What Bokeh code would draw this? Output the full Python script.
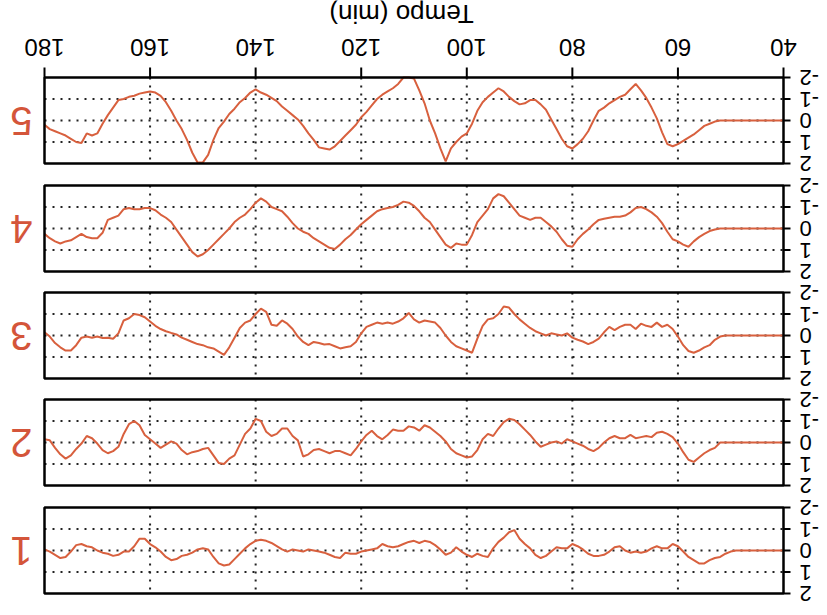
import math
from bokeh.plotting import figure
from bokeh.models import Range1d, ColumnDataSource
from bokeh.core.properties import value
from bokeh.embed import file_html
from bokeh.resources import INLINE

# ---------------- data ----------------
minutes = list(range(40, 181))

series_5 = [
    0, 0, 0, 0, 0, 0, 0, 0, 0, 0,
    0, 0, 0, 0.05, 0.15, 0.25, 0.45, 0.65, 0.8, 0.95,
    1.1, 1.2, 1.1, 0.55, -0.1, -0.6, -1.05, -1.4, -1.7, -1.45,
    -1.2, -1.1, -0.95, -0.8, -0.6, -0.45, 0, 0.5, 0.85, 1.1,
    1.3, 1.2, 0.85, 0.4, -0.05, -0.5, -0.75, -0.95, -0.95, -0.8,
    -0.75, -0.9, -1.1, -1.35, -1.5, -1.3, -1.1, -0.85, -0.45, 0.15,
    0.6, 0.75, 1.0, 1.3, 1.9, 1.3, 0.6, 0.0, -0.8, -1.4,
    -1.95, -2.0, -2.0, -1.7, -1.5, -1.35, -1.2, -1.0, -0.7, -0.4,
    -0.15, 0.2, 0.45, 0.7, 0.95, 1.2, 1.35, 1.3, 1.25, 0.9,
    0.6, 0.25, -0.05, -0.25, -0.45, -0.65, -0.9, -1.05, -1.2, -1.3,
    -1.45, -1.3, -1.05, -0.85, -0.55, -0.3, 0.05, 0.35, 0.9, 1.6,
    1.95, 1.95, 1.5, 0.9, 0.4, 0.0, -0.45, -0.85, -1.15, -1.3,
    -1.35, -1.3, -1.25, -1.15, -1.1, -1.0, -0.95, -0.6, -0.25, 0.15,
    0.6, 0.7, 0.6, 1.05, 1.0, 0.85, 0.7, 0.6, 0.5, 0.4,
    0.2,
]

series_4 = [
    0, 0, 0, 0, 0, 0, 0, 0, 0, 0,
    0, 0, 0, 0.05, 0.12, 0.25, 0.4, 0.6, 0.85, 0.75,
    0.6, 0.5, 0.15, -0.25, -0.55, -0.75, -0.9, -1.0, -0.95, -0.75,
    -0.6, -0.55, -0.55, -0.5, -0.45, -0.4, -0.2, 0.05, 0.25, 0.5,
    0.85, 0.8, 0.5, 0.15, -0.1, -0.3, -0.5, -0.5, -0.4, -0.5,
    -0.6, -0.9, -1.2, -1.5, -1.6, -1.4, -0.9, -0.6, -0.3, 0.3,
    0.75, 0.75, 0.7, 0.9, 0.75, 0.4, 0.05, -0.3, -0.5, -0.8,
    -1.05, -1.2, -1.25, -1.1, -1.0, -0.95, -0.9, -0.8, -0.6, -0.4,
    -0.2, 0.05, 0.3, 0.5, 0.75, 0.95, 0.9, 0.75, 0.6, 0.45,
    0.25, 0.15, 0.0, -0.25, -0.55, -0.8, -0.9, -1.0, -1.25, -1.4,
    -1.2, -0.9, -0.65, -0.5, -0.3, 0.0, 0.25, 0.5, 0.75, 1.0,
    1.2, 1.3, 1.1, 0.75, 0.4, 0.05, -0.3, -0.5, -0.65, -0.85,
    -0.95, -0.95, -0.9, -0.9, -0.95, -0.9, -0.6, -0.5, -0.4, 0.2,
    0.45, 0.45, 0.4, 0.25, 0.4, 0.55, 0.6, 0.7, 0.6, 0.45,
    0.25,
]

series_3 = [
    0, 0, 0, 0, 0, 0, 0, 0, 0, 0,
    0, 0, 0.05, 0.2, 0.45, 0.55, 0.7, 0.8, 0.72, 0.45,
    0.05, -0.3, -0.5, -0.4, -0.6, -0.4, -0.45, -0.55, -0.3, -0.5,
    -0.5, -0.4, -0.25, -0.4, -0.15, 0.15, 0.3, 0.4, 0.28, 0.2,
    0.1, -0.1, 0.0, -0.05, -0.1, 0.0, -0.1, -0.2, -0.35, -0.55,
    -0.75, -1.0, -1.3, -1.35, -1.0, -0.8, -0.75, -0.45, 0.15, 0.8,
    0.7, 0.6, 0.5, 0.3, 0.0, -0.35, -0.6, -0.65, -0.7, -0.6,
    -0.75, -1.05, -0.8, -0.65, -0.55, -0.6, -0.55, -0.6, -0.5, -0.4,
    -0.1, 0.3, 0.5, 0.55, 0.6, 0.5, 0.4, 0.42, 0.35, 0.3,
    0.45, 0.3, 0.05, -0.3, -0.55, -0.7, -0.45, -0.5, -1.1, -1.25,
    -1.0, -0.7, -0.6, -0.35, 0.1, 0.55, 0.9, 0.75, 0.6, 0.55,
    0.45, 0.4, 0.3, 0.2, 0.1, -0.05, -0.12, -0.2, -0.3, -0.45,
    -0.65, -0.85, -0.95, -1.0, -0.8, -0.7, -0.1, 0.15, 0.1, 0.12,
    0.05, 0.1, 0.05, 0.1, 0.45, 0.7, 0.7, 0.55, 0.35, 0.05,
    -0.15,
]

series_2 = [
    0, 0, 0, 0, 0, 0, 0, 0, 0, 0,
    0, 0, 0, 0.25, 0.35, 0.5, 0.7, 0.9, 0.8, 0.45,
    0.05, -0.25, -0.4, -0.5, -0.45, -0.25, -0.3, -0.25, -0.2, -0.35,
    -0.2, -0.2, -0.3, -0.2, 0.0, 0.25, 0.4, 0.3, 0.15, 0.05,
    -0.05, -0.15, 0.05, -0.05, 0.0, 0.1, 0.2, -0.05, -0.35, -0.6,
    -0.85, -1.05, -1.1, -0.95, -0.65, -0.3, -0.4, -0.15, 0.35, 0.65,
    0.7, 0.6, 0.5, 0.3, -0.05, -0.3, -0.5, -0.7, -0.8, -0.55,
    -0.7, -0.75, -0.55, -0.55, -0.6, -0.35, -0.15, -0.3, -0.55, -0.35,
    -0.05, 0.3, 0.6, 0.5, 0.4, 0.4, 0.5, 0.4, 0.3, 0.35,
    0.55, 0.65, -0.1, -0.3, -0.65, -0.65, -0.4, -0.3, -0.5, -1.0,
    -1.1, -0.65, -0.4, 0.1, 0.6, 0.75, 1.0, 0.95, 0.6, 0.25,
    0.3, 0.4, 0.45, 0.55, 0.35, 0.05, -0.05, 0.1, 0.25, 0.05,
    -0.15, -0.35, -0.8, -1.0, -0.85, -0.4, 0.2, 0.4, 0.5, 0.35,
    0.05, -0.2, -0.3, 0.05, 0.3, 0.6, 0.75, 0.55, 0.25, -0.1,
    -0.15,
]

series_1 = [
    0, 0, 0, 0, 0, 0, 0, 0, 0, 0,
    0.05, 0.15, 0.3, 0.35, 0.45, 0.6, 0.6, 0.45, 0.3, 0.05,
    -0.2, -0.3, -0.1, -0.1, -0.2, -0.1, 0.05, 0.1, 0.05, 0.1,
    0.0, -0.2, -0.15, 0.05, 0.2, 0.25, 0.25, 0.15, -0.05, -0.2,
    -0.3, -0.1, -0.1, -0.15, 0.05, 0.25, 0.35, 0.2, -0.1, -0.3,
    -0.55, -0.95, -0.85, -0.6, -0.4, -0.1, 0.3, 0.25, 0.15, 0.3,
    0.2, 0.05, -0.15, 0.1, 0.2, -0.05, -0.25, -0.4, -0.45, -0.35,
    -0.45, -0.4, -0.3, -0.2, -0.15, -0.2, -0.3, -0.1, -0.05, 0.0,
    0.05, 0.15, 0.15, 0.1, 0.35, 0.3, 0.2, 0.1, 0.05, 0.0,
    -0.05, 0.05, 0.0, -0.05, 0.05, -0.05, -0.2, -0.35, -0.45, -0.5,
    -0.45, -0.3, -0.1, 0.15, 0.4, 0.65, 0.7, 0.6, 0.3, -0.05,
    -0.1, -0.05, 0.1, 0.2, 0.25, 0.4, 0.45, 0.3, 0.05, -0.15,
    -0.3, -0.55, -0.55, -0.2, 0.05, 0.05, 0.2, 0.25, 0.15, 0.1,
    0.0, -0.15, -0.2, -0.3, -0.25, 0.05, 0.3, 0.35, 0.2, 0.05,
    -0.05,
]

panel_names = ["5", "4", "3", "2", "1"]
panel_series = [series_5, series_4, series_3, series_2, series_1]
x_ticks = [40, 60, 80, 100, 120, 140, 160, 180]
y_ticks = [-2, -1, 0, 1, 2]
y_grid = [-1, 0, 1]
x_title = "Tempo (min)"

# ---------------- layout (pixels; the picture is shown rotated 180 degrees) ----------------
W, H = 827, 614
FRAME_L, FRAME_R = 44, 783
PANEL_TOPS = [77, 185, 292, 399, 507]
PANEL_H = 86
X_MIN, X_MAX = min(x_ticks), max(x_ticks)
Y_MIN, Y_MAX = min(y_ticks), max(y_ticks)
pxm = (FRAME_R - FRAME_L) / (X_MAX - X_MIN)     # px per minute
u = PANEL_H / (Y_MAX - Y_MIN)                    # px per unit

LINE = "#d8603e"
NUM = "#d4553a"
FONT = value("Liberation Sans")
DOT = "2 6"

p = figure(
    width=W, height=H,
    x_range=Range1d(X_MAX + FRAME_L / pxm, X_MIN - (W - FRAME_R) / pxm),
    y_range=Range1d(H, 0),
    x_axis_location=None, y_axis_location=None,
    output_backend="svg", toolbar_location=None,
    min_border=0, outline_line_color=None,
    background_fill_color="white", border_fill_color="white",
)
p.xgrid.visible = False
p.ygrid.visible = False

inner_x = [t for t in x_ticks if X_MIN < t < X_MAX]

for k, (name, vals) in enumerate(zip(panel_names, panel_series)):
    T = PANEL_TOPS[k]
    B = T + PANEL_H
    rn = f"panel{name}"
    # range such that Y_MAX sits at the panel's bottom edge, Y_MIN at its top edge
    p.extra_y_ranges[rn] = Range1d(Y_MAX + (H - B) / u, Y_MIN - T / u)

    # dotted grid
    p.segment(x0=inner_x, y0=[Y_MIN] * len(inner_x), x1=inner_x, y1=[Y_MAX] * len(inner_x),
              y_range_name=rn, line_color="#222222", line_width=2, line_dash=DOT)
    p.segment(x0=[X_MAX] * len(y_grid), y0=y_grid, x1=[X_MIN] * len(y_grid), y1=y_grid,
              y_range_name=rn, line_color="#222222", line_width=2, line_dash=DOT)

    # data
    src = ColumnDataSource(dict(t=minutes, v=vals))
    p.line("t", "v", source=src, y_range_name=rn, line_color=LINE, line_width=2)

    # frame
    p.quad(left=[X_MAX], right=[X_MIN], top=[Y_MIN], bottom=[Y_MAX], y_range_name=rn,
           fill_color=None, line_color="black", line_width=2.5)

    # right axis: ticks and labels
    p.segment(x0=[X_MIN] * len(y_ticks), y0=y_ticks, x1=[X_MIN - 7 / pxm] * len(y_ticks), y1=y_ticks,
              y_range_name=rn, line_color="black", line_width=2)
    p.text(x=[X_MIN - 16 / pxm] * len(y_ticks), y=y_ticks, text=[str(t) for t in y_ticks],
           y_range_name=rn, angle=math.pi, text_align="right", text_baseline="middle",
           text_font=FONT, text_font_size="22px", text_color="black")

    # panel number
    p.text(x=[X_MAX + (FRAME_L - 21) / pxm], y=[0], text=[name], y_range_name=rn,
           angle=math.pi, text_align="center", text_baseline="middle",
           text_font=FONT, text_font_size="40px", text_color=NUM)

    if k == 0:
        # top axis: ticks, labels and title
        p.segment(x0=x_ticks, y0=[Y_MIN] * len(x_ticks), x1=x_ticks,
                  y1=[Y_MIN - 10 / u] * len(x_ticks),
                  y_range_name=rn, line_color="black", line_width=2)
        p.text(x=x_ticks, y=[Y_MIN - (T - 46.5) / u] * len(x_ticks),
               text=[str(t) for t in x_ticks], y_range_name=rn,
               angle=math.pi, text_align="center", text_baseline="middle",
               text_font=FONT, text_font_size="24px", text_color="black")
        p.text(x=[X_MAX - (401 - FRAME_L) / pxm], y=[Y_MIN - (T - 13.5) / u],
               text=[x_title], y_range_name=rn,
               angle=math.pi, text_align="center", text_baseline="middle",
               text_font=FONT, text_font_size="26px", text_color="black")

open("out.html", "w").write(file_html(p, INLINE))
